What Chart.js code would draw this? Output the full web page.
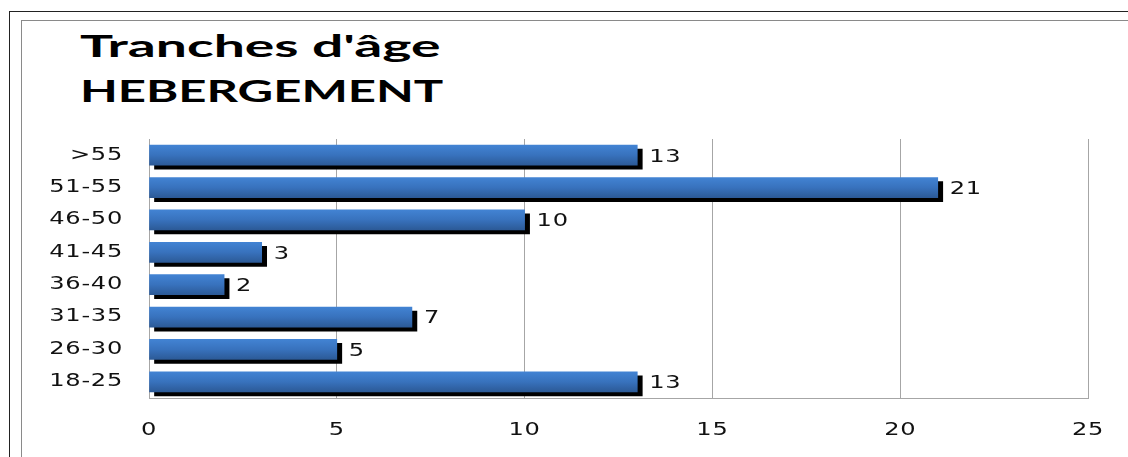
<!DOCTYPE html>
<html>
<head>
<meta charset="utf-8">
<script src="https://cdn.jsdelivr.net/npm/chart.js@4.4.1/dist/chart.umd.min.js"></script>
<style>
  html, body { margin: 0; padding: 0; background: #fff; }
  #wrap { position: relative; width: 1128px; height: 457px; overflow: hidden; }
  #outer { position: absolute; left: 9px; top: 11px; width: 1200px; height: 500px; border: 1px solid #222; }
  #inner { position: absolute; left: 21px; top: 20px; width: 1200px; height: 500px; border: 1px solid #8a8a8a; }
  .title {
    position: absolute; left: 80px; margin: 0;
    font-family: Lato, sans-serif; font-weight: 700; font-size: 31px; line-height: 1;
    color: #000; transform-origin: left top; white-space: nowrap;
  }
  #chartBox { position: absolute; left: 0; top: 0; width: 1128px; height: 457px; }
</style>
</head>
<body>
<div id="wrap">
  <div id="outer"></div>
  <div id="inner"></div>
  <div class="title" id="t1" style="top:30px" data-w="360">Tranches d'âge</div>
  <div class="title" id="t2" style="top:75px" data-w="364">HEBERGEMENT</div>
  <div id="chartBox"><canvas id="ageChart"></canvas></div>
</div>
<script>
// ============================================
// DONNÉES
// ============================================
const categories = ['>55', '51-55', '46-50', '41-45', '36-40', '31-35', '26-30', '18-25'];
const valeurs    = [13, 21, 10, 3, 2, 7, 5, 13];
const xMin  = 0;
const xMax  = 25;
const xStep = 5;

const TICK_FONT = { family: "'DejaVu Sans', Verdana, sans-serif", size: 17 };
const STRETCH   = 1.42;    // texte étiré horizontalement comme l'original
const LETTER_SP = '0.5px';

// titre : même largeur que l'original
document.querySelectorAll('.title').forEach(t => {
  const sx = Number(t.dataset.w) / t.offsetWidth;
  t.style.transform = `scaleX(${sx})`;
});

// fillText étiré autour du point d'ancrage
function stretchText(c) {
  if (c._stretched) return;
  const orig = c.fillText.bind(c);
  c.fillText = function (text, x, y) {
    this.save();
    this.letterSpacing = LETTER_SP;
    this.translate(x, y);
    this.scale(STRETCH, 1);
    orig(text, 0, 0);
    this.restore();
  };
  c._stretched = true;
}

// ombre noire + dégradé bleu par barre, puis étiquettes de valeur
const barStylePlugin = {
  id: 'barStyle',
  beforeDatasetsDraw(chart) {
    const ctx  = chart.ctx;
    const meta = chart.getDatasetMeta(0);
    meta.data.forEach(el => {
      const top = el.y - el.height / 2;
      const g = ctx.createLinearGradient(0, top, 0, top + el.height);
      g.addColorStop(0,   '#4283d3');
      g.addColorStop(0.5, '#3872bd');
      g.addColorStop(1,   '#2c5a97');
      el.options.backgroundColor = g;
    });
    ctx.save();
    ctx.shadowColor   = '#000';
    ctx.shadowOffsetX = 5;
    ctx.shadowOffsetY = 4;
    ctx.shadowBlur    = 0;
  },
  afterDatasetsDraw(chart) {
    const ctx = chart.ctx;
    ctx.restore();
    const meta = chart.getDatasetMeta(0);
    ctx.save();
    ctx.font = `${TICK_FONT.size}px ${TICK_FONT.family}`;
    ctx.fillStyle = '#111';
    ctx.textAlign = 'left';
    ctx.textBaseline = 'middle';
    meta.data.forEach((el, i) => {
      ctx.fillText(String(valeurs[i]), el.x + 12, el.y + 2);
    });
    ctx.restore();
  },
};

const ctx = document.getElementById('ageChart').getContext('2d');
stretchText(ctx);

new Chart(ctx, {
  type: 'bar',
  data: {
    labels: categories,
    datasets: [{
      data: valeurs,
      backgroundColor: () => '#3872bd',
      borderWidth: 0,
      barThickness: 20,
      clip: false,
    }],
  },
  options: {
    indexAxis: 'y',
    responsive: true,
    maintainAspectRatio: false,
    animation: false,
    layout: { padding: { top: 139, right: 40, bottom: 0, left: 0 } },
    plugins: {
      legend:  { display: false },
      tooltip: { enabled: false },
      title:   { display: false },
    },
    scales: {
      x: {
        min: xMin,
        max: xMax,
        ticks: { stepSize: xStep, color: '#111', font: TICK_FONT, padding: 22, maxRotation: 0 },
        grid:  { color: '#a6a6a6', lineWidth: 1, drawTicks: false },
        border: { display: true, color: '#a6a6a6', width: 1 },
        afterFit(scale) { scale.height = 59; },
      },
      y: {
        ticks: { color: '#111', font: TICK_FONT, padding: 26 },
        grid:  { display: false, drawTicks: false },
        border: { display: true, color: '#a6a6a6', width: 1 },
        afterFit(scale) { scale.width = 149; },
      },
    },
  },
  plugins: [barStylePlugin],
});
</script>
</body>
</html>
